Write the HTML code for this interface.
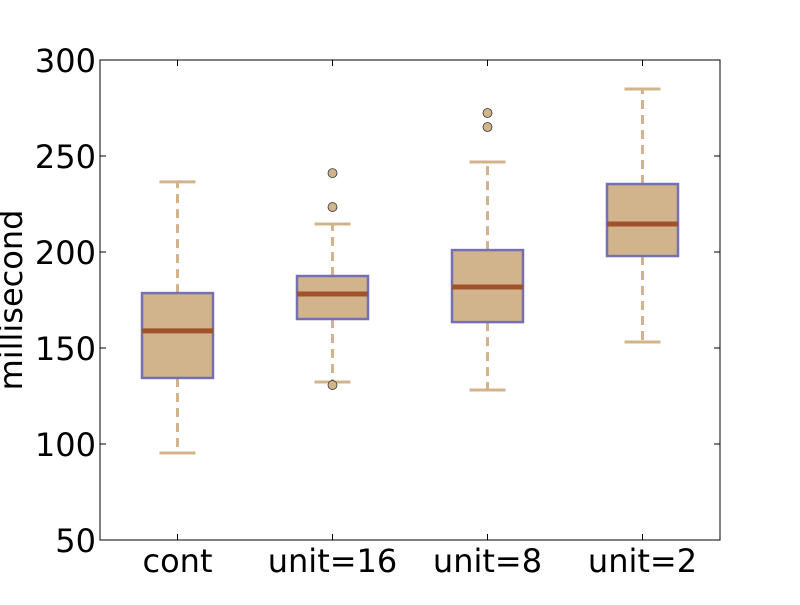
<!DOCTYPE html>
<html><head><meta charset="utf-8"><style>
body{margin:0;background:#fff}
svg{font-family:"DejaVu Sans","Liberation Sans",sans-serif}
</style></head><body>
<svg id="chart" width="800" height="600">
<rect width="800" height="600" fill="#fff"/>
<g id="marks"></g>
<rect x="100" y="60" width="620" height="480" fill="none" stroke="#000" stroke-width="1"/>
<g id="axes"></g>
<text transform="translate(22,300) rotate(-90)" text-anchor="middle" font-size="32">millisecond</text>
</svg>
<script>
const categories=["cont","unit=16","unit=8","unit=2"];
const whiskerLow=[95.3,132.3,128.1,153.1];
const q1=[134.4,165.1,163.5,197.9];
const medians=[158.9,178.1,181.8,214.6];
const q3=[178.6,187.5,201,235.4];
const whiskerHigh=[236.5,214.6,246.9,284.9];
const outliers=[[],[241.1,223.4,130.7],[272.4,265.1],[]];
const yTicks=[50,100,150,200,250,300];

const NS="http://www.w3.org/2000/svg";
const L=100,R=720,T=60,B=540,yMin=50,yMax=300;
const y=v=>B-(v-yMin)/(yMax-yMin)*(B-T);
const x=i=>L+(i+0.5)*(R-L)/categories.length;
function mk(tag,attrs,parent){const e=document.createElementNS(NS,tag);for(const k in attrs)e.setAttribute(k,attrs[k]);parent.appendChild(e);return e;}
const marks=document.getElementById('marks'),axes=document.getElementById('axes');
const bw=71,cw=36;
categories.forEach((c,i)=>{
  const cx=x(i);
  const g=mk('g',{},marks);
  
  
  let w=mk('line',{x1:cx,x2:cx,y1:y(q3[i]),y2:y(whiskerHigh[i]),stroke:'#d2b48c','stroke-width':3,'stroke-dasharray':'9,6'},g);
  
  
  w=mk('line',{x1:cx,x2:cx,y1:y(q1[i]),y2:y(whiskerLow[i]),stroke:'#d2b48c','stroke-width':3,'stroke-dasharray':'9,6'},g);
  
  
  let cp=mk('line',{x1:cx-cw/2,x2:cx+cw/2,y1:y(whiskerHigh[i]),y2:y(whiskerHigh[i]),stroke:'#d2b48c','stroke-width':3},g);
  
  
  cp=mk('line',{x1:cx-cw/2,x2:cx+cw/2,y1:y(whiskerLow[i]),y2:y(whiskerLow[i]),stroke:'#d2b48c','stroke-width':3},g);
  
  
  const b=mk('rect',{x:cx-bw/2,y:y(q3[i]),width:bw,height:y(q1[i])-y(q3[i]),fill:'#d2b48c',stroke:'#7570b3','stroke-width':2.5},g);
  
  
  const m=mk('line',{x1:cx-bw/2,x2:cx+bw/2,y1:y(medians[i]),y2:y(medians[i]),stroke:'#a0522d','stroke-width':5},g);
  
  
  outliers[i].forEach(v=>{
    const o=mk('circle',{cx:cx,cy:y(v),r:4.5,fill:'#d2b48c',stroke:'#333','stroke-width':0.8},g);
    
    
  });
  mk('line',{x1:cx,x2:cx,y1:B,y2:B-6,stroke:'#000'},axes);
  mk('line',{x1:cx,x2:cx,y1:T,y2:T+6,stroke:'#000'},axes);
  const t=mk('text',{x:cx,y:572,'text-anchor':'middle','font-size':32},axes);
  t.textContent=c;
  
  
});
yTicks.forEach(v=>{
  mk('line',{x1:L,x2:L+6,y1:y(v),y2:y(v),stroke:'#000'},axes);
  mk('line',{x1:R,x2:R-6,y1:y(v),y2:y(v),stroke:'#000'},axes);
  const t=mk('text',{x:96,y:y(v)+12,'text-anchor':'end','font-size':32},axes);
  t.textContent=v;
  
  
});
</script>
</body></html>
